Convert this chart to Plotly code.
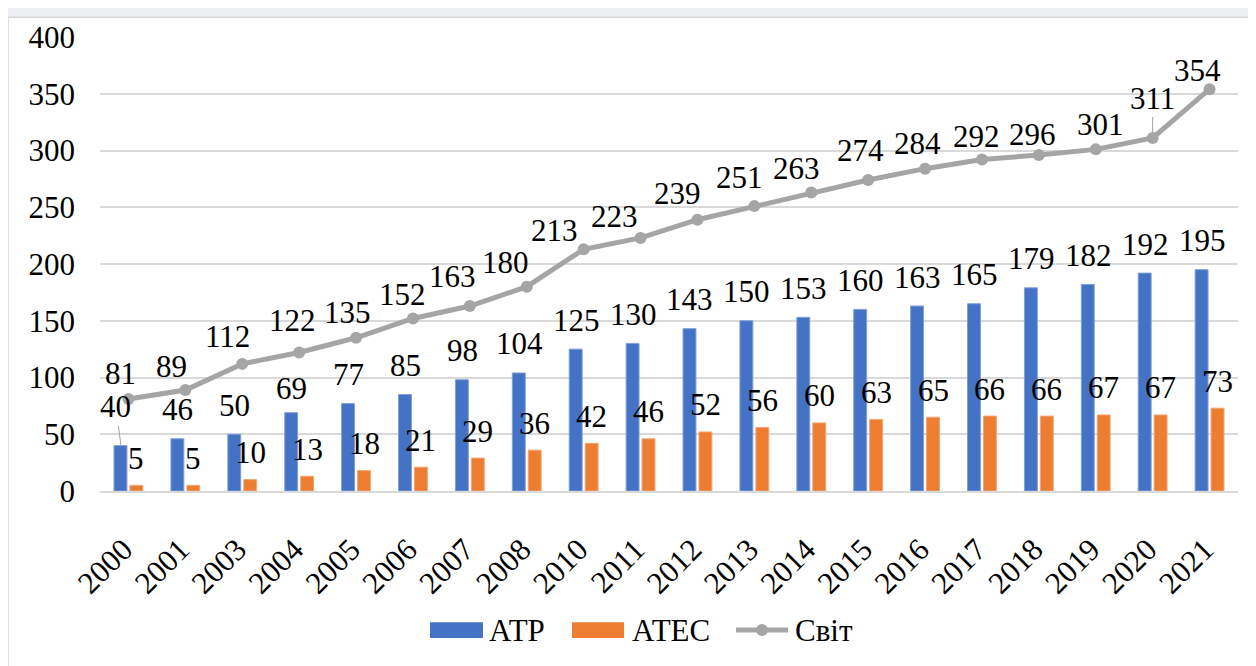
import plotly.graph_objects as go

# data
years = ["2000", "2001", "2003", "2004", "2005", "2006", "2007", "2008", "2010", "2011",
         "2012", "2013", "2014", "2015", "2016", "2017", "2018", "2019", "2020", "2021"]
atr = [40, 46, 50, 69, 77, 85, 98, 104, 125, 130, 143, 150, 153, 160, 163, 165, 179, 182, 192, 195]
apec = [5, 5, 10, 13, 18, 21, 29, 36, 42, 46, 52, 56, 60, 63, 65, 66, 66, 67, 67, 73]
world = [81, 89, 112, 122, 135, 152, 163, 180, 213, 223, 239, 251, 263, 274, 284, 292, 296, 301, 311, 354]
names = ["АТР", "АТЕС", "Світ"]

BLUE = "#4472c4"
ORANGE = "#ed7d31"
GREY = "#a5a5a5"
GRID = "#d9d9d9"
FONT = "Liberation Serif, Times New Roman, serif"
FS = 31

# pixel nudges of the world labels (manually placed in the original)
world_nudge = [(-8, 26), (-14, 23), (-15, 27), (-7, 32), (-9, 25), (-10, 24), (-17, 30),
               (-21, 24), (-29, 19), (-26, 21), (-20, 26), (-15, 29), (-15, 24), (-8, 30),
               (-8, 25), (-5, 23), (-6, 21), (5, 25), (0, 40), (-12, 19)]

fig = go.Figure()
fig.add_trace(go.Bar(x=years, y=atr, name=names[0], marker_color=BLUE,
                     marker_line=dict(color="#7f9fd9", width=1), showlegend=False))
fig.add_trace(go.Bar(x=years, y=apec, name=names[1], marker_color=ORANGE,
                     marker_line=dict(color="#f3a677", width=1), showlegend=False))
fig.add_trace(go.Scatter(x=years, y=world, name=names[2], mode="lines+markers",
                         line=dict(color=GREY, width=5), marker=dict(size=12, color=GREY),
                         showlegend=False))

lab = dict(showarrow=False, font=dict(family=FONT, size=FS, color="black"),
           xanchor="center", yanchor="middle")
ann = []
for i, yr in enumerate(years):
    # category index i is the position of year yr on the category axis
    # АТР labels
    if i == 0:
        ann.append(dict(x=i, y=atr[i], text=str(atr[i]), xshift=-7.5, showarrow=True,
                        arrowhead=0, arrowwidth=1, arrowcolor=GREY, ax=-5, ay=-39,
                        font=dict(family=FONT, size=FS, color="black")))
    else:
        dy = 24 if atr[i] == 69 else 29
        ann.append(dict(x=i, y=atr[i], text=str(atr[i]), xshift=-7.5, yshift=dy, **lab))
    # АТЕС labels
    ann.append(dict(x=i, y=apec[i], text=str(apec[i]), xshift=8, yshift=27, **lab))
    # Світ labels
    dx, dy = world_nudge[i]
    if dy >= 40:
        ann.append(dict(x=i, y=world[i], text=str(world[i]), showarrow=True,
                        arrowhead=0, arrowwidth=1, arrowcolor=GREY, ax=dx, ay=-dy,
                        standoff=6, font=dict(family=FONT, size=FS, color="black")))
    else:
        ann.append(dict(x=i, y=world[i], text=str(world[i]), xshift=dx, yshift=dy, **lab))

# the page body has an 8px margin, so the figure starts at page (8, 8)
OFF = 8
FW, FH = 1256 - OFF, 666 - OFF
# plot-area edges in page pixels
L, R, T, B = 100, 1238, 34, 491
W, H = R - L, B - T


def px(x):
    return (x - L) / W


def py(y):
    return (B - y) / H


shapes = [
    # white panel with light border
    dict(type="rect", xref="paper", yref="paper", x0=px(8), x1=px(1300), y0=py(14), y1=py(720),
         fillcolor="white", line=dict(color="#d6d6d6", width=1.5), layer="below"),
    # legend swatches
    dict(type="rect", xref="paper", yref="paper", x0=px(430), x1=px(483), y0=py(623), y1=py(639),
         fillcolor=BLUE, line=dict(width=0)),
    dict(type="rect", xref="paper", yref="paper", x0=px(572), x1=px(624), y0=py(623), y1=py(639),
         fillcolor=ORANGE, line=dict(width=0)),
    dict(type="line", xref="paper", yref="paper", x0=px(736), x1=px(788), y0=py(631), y1=py(631),
         line=dict(color=GREY, width=5)),
    dict(type="circle", xref="paper", yref="paper", x0=px(756), x1=px(768), y0=py(625), y1=py(637),
         fillcolor=GREY, line=dict(width=0)),
]
leg = dict(xref="paper", yref="paper", showarrow=False, xanchor="left", yanchor="middle",
           font=dict(family=FONT, size=FS, color="black"))
ann.append(dict(x=px(487), y=py(631), text=names[0], **leg))
ann.append(dict(x=px(630), y=py(631), text=names[1], **leg))
ann.append(dict(x=px(793), y=py(631), text=names[2], **leg))

fig.update_layout(
    width=FW, height=FH,
    margin=dict(l=L - OFF, r=FW - (R - OFF), t=T - OFF, b=FH - (B - OFF)),
    paper_bgcolor="#eef0f4",
    plot_bgcolor="rgba(0,0,0,0)",
    barmode="group", bargap=0.44, bargroupgap=0.19,
    font=dict(family=FONT, size=FS, color="black"),
    annotations=ann, shapes=shapes,
    showlegend=False,
)
fig.update_xaxes(type="category", range=[-0.5, len(years) - 0.5], tickangle=-45,
                 showgrid=False, ticks="", showline=True, linecolor=GRID, linewidth=2,
                 ticklabelstandoff=26, ticklabelshift=-5,
                 tickfont=dict(family=FONT, size=FS, color="black"))
fig.update_yaxes(range=[0, 400], dtick=50, showgrid=True, gridcolor=GRID, gridwidth=1.5,
                 zeroline=False, ticks="", ticklabelstandoff=24,
                 tickfont=dict(family=FONT, size=FS, color="black"))

fig.write_html("out.html")
